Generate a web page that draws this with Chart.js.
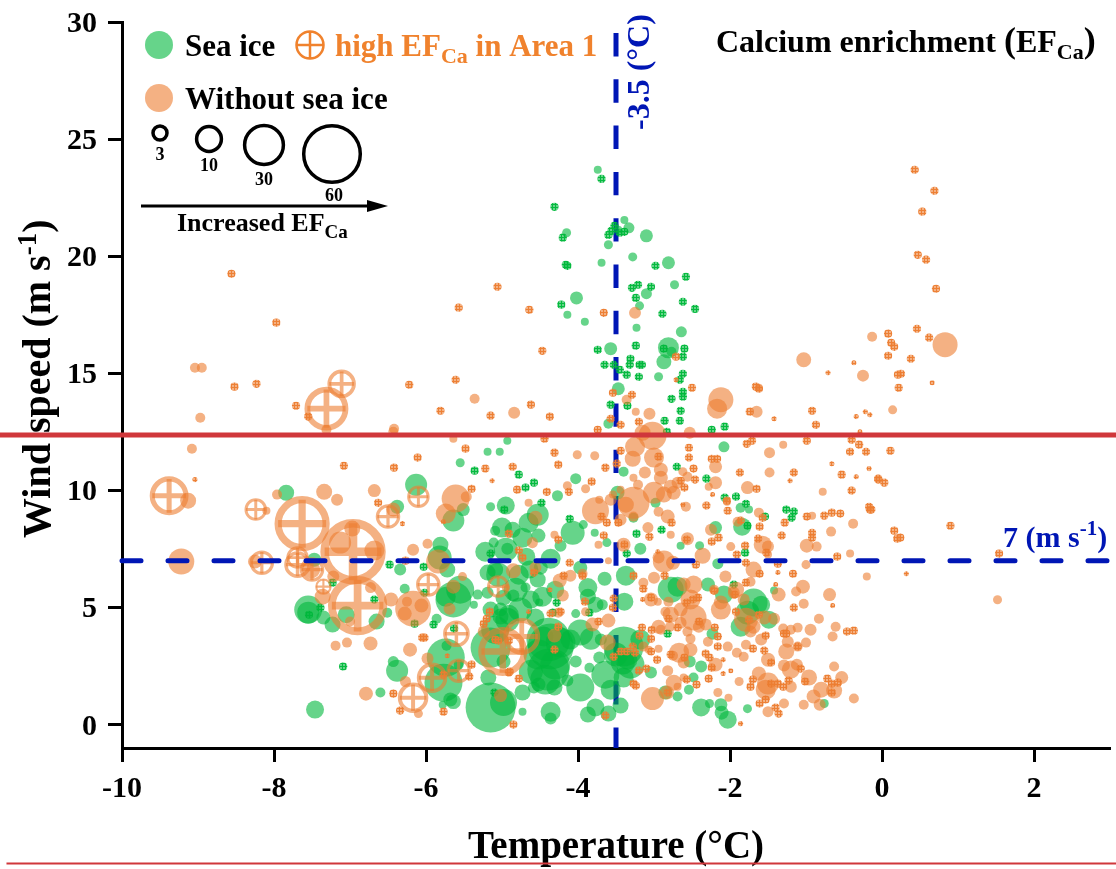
<!DOCTYPE html>
<html>
<head>
<meta charset="utf-8">
<title>Calcium enrichment</title>
<script src="https://cdn.jsdelivr.net/npm/chart.js@4/dist/chart.umd.min.js"></script>
<style>
  html, body { margin: 0; padding: 0; background: #fff; }
  canvas { display: block; }
</style>
</head>
<body>
<canvas id="chart" width="1116" height="869"></canvas>
<script>
// Axis ticks
const tempTicks = [-10, -8, -6, -4, -2, 0, 2];
const windTicks = [0, 5, 10, 15, 20, 25, 30];

// Reference lines
const tempLimit = -3.5;
const windLimit = 7;
const redLineWind = 12.36;
const bottomLineWind = -5.93;

// [temperature, wind speed, EF_Ca]
const seaIce = [
  [-3.74,23.69,1],[-4.15,21,1.27],[-3.39,21.55,1],[-3.33,21.21,1.9],[-3.1,20.87,2.64],[-3.6,20.49,1.27],[-3.47,21.13,1],
  [-3.28,19.97,1.27],[-3.69,19.72,1],[-2.81,19.72,2.64],[-2.73,18.78,1.27],[-3.1,18.4,1.9],[-4.02,18.22,2.64],[-3.19,17.88,1.27],
  [-4.14,17.5,1],[-3.91,17.2,1],[-3.23,16.94,1],[-2.64,16.77,1.9],[-3.57,16.05,2.64],[-2.81,16.09,6.9],[-2.77,15.92,1.56],
  [-2.87,15.49,3.5],[-2.94,14.85,1.27],[-3.47,14.34,2.64],[-3.6,12.85,1.56],[-2.08,11.86,1.9],[-4.93,12.12,1],[-5.19,11.65,1],
  [-5.03,11.65,1],[-4.03,10.5,1.9],[-4.27,9.77,1.9],[-4.95,9.35,5.06],[-5.15,9.3,1.27],[-4.53,8.96,7.56],[-5,8.41,6.25],
  [-5.09,8.28,1.56],[-4.73,7.98,6.25],[-4.52,8.07,3.06],[-4.07,8.19,9],[-3.93,8.54,1.27],[-3.78,8.19,1],[-3.62,7.77,1.27],
  [-4.23,7.64,2.25],[-4.36,7.08,6.25],[-4.93,7.51,2.25],[-4.68,7.17,5.06],[-5.11,7.77,1.56],[-5.22,7.38,6.25],[-5.19,6.49,4],
  [-5.09,6.62,4],[-4.53,6.19,4],[-4.69,5.85,1.56],[-4.49,6.7,3.06],[-4.64,6.62,5.06],[-4.47,5.46,6.25],[-4.51,5.21,1],
  [-4.78,6.4,6.25],[-4.85,5.51,2.25],[-4.98,5.42,4],[-3.87,5.85,5.6],[-3.87,5.46,4],[-3.65,6.23,3.06],[-3.77,5.12,4],
  [-3.68,5.12,1.9],[-3.97,6.7,3.06],[-3.37,6.36,6.25],[-3.39,5.25,5.06],[-4.03,4.74,1.27],[-4.56,4.57,5.06],[-4.91,4.69,6.25],
  [-5.02,4.61,4],[-5.09,4.05,12.25],[-4.93,4.48,9],[-4.36,3.33,33],[-4.23,3.5,14],[-4.45,3.76,6.25],[-3.97,3.93,10.6],
  [-3.83,3.67,7.56],[-4.03,2.69,2.25],[-4.39,2.35,27.6],[-4.14,1.88,2.25],[-4.31,1.58,4],[-4.58,1.58,2.25],[-3.97,1.58,12.25],
  [-4.52,1.71,3.06],[-4.73,1.37,4],[-3.64,2.13,12.25],[-3.72,2.86,2.25],[-3.85,2.43,1.56],[-3.4,3.33,25],[-3.41,2.65,9],
  [-3.35,2.77,6.25],[-3.4,2.01,6.25],[-3.04,2.22,2.25],[-3.44,0.81,4],[-3.6,0.47,4],[-3.77,0.73,5.06],[-3.87,0.43,4],
  [-4.36,0.55,6.25],[-4.36,0.26,2.25],[-4.73,0.55,1],[-4.98,0.94,11.4],[-5.15,0.73,39],[-2.65,7.64,1],[-2.4,7.64,1.27],
  [-2.19,8.41,2.64],[-1.84,8.45,5.06],[-1.75,9.18,1],[-1.86,9.26,1.56],[-2.16,6.87,1.9],[-3.18,7.51,2.25],[-3.4,10.8,1.56],
  [-2.98,9.47,1.56],[-3.27,8.83,1.56],[-3.48,9.9,3.06],[-2.69,1.2,1.56],[-2.85,1.37,3.06],[-2.48,2.01,1.56],[-2.54,1.49,1.56],
  [-2.38,2.48,2.25],[-2.53,2.69,2.25],[-2.23,3.88,2.25],[-2.78,5.76,10.6],[-2.69,5.89,6.25],[-2.29,5.98,3.06],[-2.08,5.55,5.06],
  [-1.69,5.21,12.25],[-1.77,4.78,9],[-1.59,5.12,5.06],[-1.49,4.48,5.06],[-1.86,4.18,6.25],[-1.42,5.72,1],[-2.38,0.73,5.06],
  [-2.27,0.9,1.27],[-2.12,0.85,2.64],[-2.11,0.51,3.06],[-2.03,0.21,5.06],[-1.77,0.68,1.27],[-0.76,0.9,1.27],[-7.84,9.9,4],
  [-6.13,10.24,7.56],[-6.38,9.3,3.06],[-5.55,11.18,1.27],[-5.64,8.71,7.56],[-5.51,9.18,2.64],[-5.82,7.13,9],[-5.72,6.62,4],
  [-7.47,7.04,3.06],[-6.28,5.8,1.56],[-5.64,5.34,20],[-5.74,5.46,6.25],[-5.32,5.55,1.56],[-5.37,5.12,1],[-5.19,5.63,2.25],
  [-7.55,4.91,12.25],[-7.55,4.78,7.56],[-7.23,4.27,4],[-7.35,4.57,3.06],[-6.51,4.78,1.56],[-7.05,4.69,4.5],[-6.65,4.4,4],
  [-5.86,4.52,1.56],[-5.74,2.86,22.6],[-5.73,3.37,1.56],[-5.57,2.56,1.56],[-5.77,1.79,22.6],[-5.68,1.07,3.06],[-5.78,0.85,1],
  [-5.64,0.98,3.5],[-6.38,2.3,7.56],[-6.43,2.69,1.9],[-6.6,1.37,1.56],[-7.46,0.64,5.06],[-5.18,2.01,4],[-4.98,2.69,3.06],
  [-5.15,3.29,25],[-5.02,4.91,3.06],[-4.39,3.63,30],[-4.52,2.99,14],[-4.3,2.56,14],[-4.43,1.92,14],[-4.62,2.26,9],[-4.86,8.32,4],
  [-4.65,8.62,6.25],[-4.95,7.47,9],[-4.62,5.34,5.06],[-4.3,5.76,5.06],[-4.82,5.76,9],[-4.76,4.91,9],[-5.05,6.4,9],[-5.15,4.91,4],
  [-5.55,5.76,12.25],[-5.81,7.68,4],[-4.1,3.63,6.25],[-3.7,3.63,2.25],[-3.57,1.49,6.25],[-3.18,3.63,6.25],[-3.31,2.56,12.25],
  [-3.5,2.99,9],[-6.34,6.62,2.25]
];

const withoutIce = [
  [-9.04,15.24,1.56],[-8.95,15.24,1.56],[-8.97,13.1,1.56],[-9.08,11.78,1.56],[-9.13,9.56,4],[-9.22,6.96,10.6],[-8.25,6.96,3.06],
  [-8.1,9.13,1],[-7.96,9.82,1.56],[-7.34,9.94,4],[-7.17,9.6,2.25],[-6.68,9.99,2.64],[-6.43,9.18,3.06],[-6.17,7.47,2.25],
  [-5.98,7.72,1.56],[-7.13,7.77,7.56],[-6.97,8.37,4],[-6.68,7.43,6.25],[-7.51,6.62,5],[-7.22,6.32,2.25],[-7.36,5.46,4],
  [-6.73,5.85,1.9],[-6.46,5.34,3.06],[-6.17,4.95,20],[-5.61,9.65,12.25],[-5.74,9.01,6.25],[-5.47,9.73,1.9],[-7.19,3.37,1.56],
  [-7.04,3.5,1.56],[-6.73,3.46,3.06],[-6.21,3.2,3.06],[-5.98,2.82,2.25],[-6.79,1.32,3.06],[-6.27,1.84,1.9],[-6.1,0.47,1.27],
  [-5.52,6.32,1.27],[-5.84,6.96,9],[-5.64,5.89,3.06],[-5.69,4.95,2.25],[-6.06,5.08,3.06],[-6.25,5.25,1.56],[-6.28,4.74,3.06],
  [-7,4.4,1.56],[-6.43,12.5,1.56],[-7.31,12.59,1.56],[-5.64,12.21,1],[-5.02,1.24,2.64],[-4.56,8.83,3.06],[-4.6,7.77,1.9],
  [-4.85,6.57,3.5],[-4.95,5.85,1],[-5.24,3.97,2.25],[-4.56,6.7,2.25],[-4.31,3.8,3.06],[-3.61,3.5,4],[-3.81,4.27,3.06],
  [-3.6,4.44,3.06],[-4.24,6.15,3.06],[-4.1,6.36,2.25],[-4.2,5.51,2.25],[-3.9,4.82,1.27],[-3.94,6.44,1.56],[-3.6,7,0.77],
  [-3.77,9.13,11.4],[-3.72,9.6,1],[-3.9,10.07,1.27],[-4.14,10.2,1.27],[-4.65,9.47,1],[-4.31,8.11,1],[-3.73,7.68,1],
  [-4.01,11.52,1.27],[-3.78,11.48,1.27],[-4.26,4.78,1.56],[-5.36,13.91,1.56],[-4.84,13.32,2.25],[-6.42,12.63,1.56],
  [-3.25,17.58,2.25],[-3.24,13.36,1],[-3.06,13.27,2.25],[-3.36,13.87,1.56],[-2.12,13.87,9.8],[-2.17,13.49,6.25],[-1.65,13.36,2.25],
  [-2.53,12.46,2.25],[-3.02,12.33,12.25],[-1.03,15.58,3.5],[-0.25,14.9,2.25],[-0.13,16.56,1.56],[0.83,16.22,9.8],[-1.62,14.38,1],
  [0.14,13.44,1.27],[-3.25,11.86,6.25],[-3.15,12.46,4],[-3,11.4,6.25],[-3.28,11.35,4],[-3.12,10.76,2.25],[-3.27,10.54,1],
  [-3.21,10.24,1.56],[-2.91,10.54,3.06],[-2.62,10.8,1.27],[-2.56,10.58,1.56],[-2.69,10.33,2.25],[-2.78,10.16,3.06],[-3,9.9,7.56],
  [-2.74,9.9,3.06],[-2.87,9.82,4],[-3.27,9.47,16],[-3.37,9.39,4],[-3.44,10.03,1],[-3.54,9.82,1],[-3.44,8.75,2.25],[-3.27,8.88,1.56],
  [-2.94,9.09,1.56],[-2.82,8.88,3.06],[-3.08,8.41,1.9],[-2.78,8.11,1],[-3.4,7.68,3.06],[-2.56,7.94,2.64],[-2.25,8.32,2.25],
  [-2.36,7.21,4],[-2.87,6.96,7.56],[-2.94,7.13,2.25],[-2.75,6.91,3.06],[-2.19,11.01,2.64],[-2.19,10.33,2.64],[-2.28,10.16,1],
  [-1.77,10.12,2.64],[-1.48,11.61,1.9],[-1.48,10.76,1.56],[-1.3,11.95,1],[-0.78,9.94,1],[-1.62,9.05,1.56],[-2.58,9.3,1.56],
  [-2.04,9.52,1],[-1.9,8.66,1.56],[-0.67,8.24,1.56],[-0.38,8.58,1.56],[-0.92,8.92,1],[-1.57,7.68,5.06],[-1.5,7.6,2.25],[-1.5,7.26,1],
  [-1.99,7.6,1.27],[-0.99,7.64,3.06],[-0.86,7.6,1.56],[-0.42,7.3,1],[-1,6.83,1.27],[-0.2,6.32,1],[-1.69,6.62,4],[-1.73,6.1,1.56],
  [1.52,5.33,1.27],[-3.14,6.06,1.56],[-3,6.27,2.25],[-2.61,5.98,3.06],[-2.48,5.98,5.06],[-2.95,5.25,1],[-2.81,5.25,1.56],
  [-2.85,4.82,1.56],[-2.48,4.57,10.6],[-2.65,4.35,2.25],[-2.41,4.18,2.25],[-2.94,4.18,3.06],[-2.79,4.18,1.56],[-2.56,3.97,1.56],
  [-2.52,3.67,1.56],[-2.29,3.54,1.56],[-2.94,3.24,1],[-3.14,3.33,1.56],[-3.07,3.2,1],[-2.67,3.07,6.25],[-2.75,2.94,1.56],
  [-2.03,3.33,1.56],[-1.91,3.07,1.56],[-1.82,2.9,1.56],[-2.19,2.56,3.06],[-2.61,2.65,2.25],[-2.82,2.3,1.9],[-2.74,1.79,4],
  [-2.61,2.01,1],[-2.83,1.37,3.06],[-2.69,1.62,1],[-3.02,1.11,8.3],[-2.16,1.37,1.27],[-2.02,1.15,1],[-1.88,1.84,1.27],
  [-2.06,6.32,2.25],[-2.21,5.76,1.56],[-2.12,5.21,3.06],[-1.95,5.63,2.25],[-1.82,5.34,2.25],[-1.69,4.18,3.06],[-1.79,4.48,9],
  [-1.55,4.57,3.06],[-1.42,4.52,2.25],[-1.73,3.97,2.25],[-1.36,5.55,3.06],[-1.04,5.89,3.06],[-1.13,5.68,1.56],[-1.03,5.16,1.56],
  [-0.69,5.55,2.64],[-0.83,4.52,1.56],[-0.61,4.18,1.56],[-0.65,3.76,1.56],[-1.3,4.1,1.56],[-1.2,4.05,1.56],[-1.11,4.14,1.56],
  [-1.24,3.54,2.25],[-1,3.5,1.56],[-1.11,3.33,1.56],[-1.26,3.12,4],[-1.5,2.77,3.06],[-1.29,2.52,2.25],[-1.12,2.56,2.25],
  [-0.63,2.48,1.56],[-1.62,2.18,3.06],[-1.5,1.75,7.56],[-1.2,1.62,2.25],[-0.96,2.01,4],[-0.53,2.01,2.64],[-0.63,1.45,4],
  [-0.37,1.11,1.56],[-0.9,1.2,3.06],[-0.82,0.85,2.25],[-1.03,0.85,1.56],[-1.29,0.9,1.56],[-1.5,0.55,1.9],[-2.12,4.91,6.25],
  [-1.92,5.76,4],[-2.52,5.34,6.25],[-2.78,4.69,4],[-1.2,2.35,5.06],[-0.8,1.49,4],[-1.53,1.49,6.25],[-1.79,3.41,1.56],[-3.04,5.34,3.06],
  [-2.65,4.91,3.06],[-2.52,3.2,3.06],[-2.32,4.27,2.25],[-1.59,3.63,2.25],[-0.94,4.05,2.25],[-2.91,4.05,1.56],[-2.91,10.88,3.06],[-3.57,9.6,2.25]
];

// Rings with a cross: high EF_Ca in Area 1
const highArea1 = [
  [-9.38,9.77,17.8],[-8.24,9.18,6],[-7.63,8.58,36],[-6.96,7.38,50.5],[-8.16,6.91,7.1],[-7.69,6.83,8.4],[-7.69,7.13,6],[-7.5,6.62,7.1],
  [-6.9,5.08,41.5],[-7.35,5.89,3.2],[-6.5,8.88,7.1],[-6.1,9.73,6],[-5.97,5.98,7.1],[-5.6,3.88,8.4],[-6.17,1.15,11],[-5.92,2,11],
  [-5.57,2.3,7.1],[-5.05,5.89,6],[-4.74,3.76,16],[-4.99,3.12,28.4],[-7.11,14.55,9.6],[-7.31,13.49,22.8]
];

// Hatched marks: [temperature, wind speed]
const hatchedEF = 1.05;
const hatchedSmallEF = 0.4;
const seaIceHatched = [
  [-3.69,23.3],[-4.31,22.11],[-4.2,20.79],[-3.6,20.91],[-3.56,21.08],[-3.52,21.3],[-3.45,21],[-3.39,21.04],[-4.16,19.63],[-4.14,19.59],
  [-2.98,19.59],[-2.58,19.12],[-3.21,18.78],[-3.29,18.65],[-3.04,18.69],[-3.24,18.22],[-4.22,17.93],[-2.62,18.05],[-2.46,17.75],
  [-2.89,17.54],[-3.24,16.18],[-3.74,16],[-2.87,16.05],[-2.6,16.05],[-2.62,15.71],[-3.31,15.62],[-3.65,15.36],[-3.53,15.36],[-3.32,15.36],
  [-3.19,15.36],[-3.16,15.36],[-3.45,15.15],[-3.36,14.94],[-3.2,14.85],[-2.62,14.98],[-2.66,14.72],[-2.62,14.21],[-2.62,14],[-2.77,13.91],
  [-3.57,13.66],[-3.35,13.61],[-2.65,13.4],[-2.86,12.97],[-2.66,12.97],[-2.24,12.59],[-2.07,12.72],[-2.83,12.5],[-4.78,10.67],[-4.69,10.12],
  [-4.58,10.33],[-4.48,9.47],[-4.97,9.18],[-4.11,8.79],[-5.15,7.3],[-3.23,8.15],[-2.9,8.32],[-2.7,11.01],[-2.31,10.5],[-2.07,9.69],
  [-1.92,9.73],[-1.79,9.43],[-1.54,8.88],[-1.77,8.49],[-1.26,9.18],[-1.16,9.09],[-1.19,8.83],[-1.8,7.34],[-3.36,7.3],[-4.28,5.21],
  [-3.85,4.78],[-2.82,3.88],[-1.95,5.98],[-5.1,1.37],[-6.48,6.83],[-6.03,6.74],[-7.23,6.06],[-6.68,5.34],[-7.39,4.99],[-7.54,4.69],
  [-6.15,4.31],[-5.9,4.27],[-5.63,4.1],[-7.09,2.48],[-6.02,5.63],[-5.36,10.84],[-4.33,4.78]
];
const withoutIceHatched = [
  [0.43,23.69],[0.69,22.79],[0.53,21.9],[0.47,20.06],[0.58,19.85],[0.71,18.61],[0.46,16.9],[0.62,16.52],[0.08,16.69],[0.12,16.3],
  [0.16,16.13],[0.08,15.75],[0.38,15.62],[0.25,14.98],[0.21,14.94],[0.22,14.38],[-1.66,14.43],[-1.74,13.36],[-0.92,13.4],[-0.87,12.8],
  [-8.56,19.25],[-7.97,17.16],[-8.52,14.43],[-8.23,14.55],[-7.71,13.61],[-7.55,13.15],[-6.22,14.51],[-5.61,14.72],[-5.81,13.4],[-5.15,13.19],
  [-4.62,13.66],[-4.37,13.15],[-5.06,18.69],[-5.57,17.8],[-4.64,17.71],[-4.47,15.96],[-3.66,17.58],[-3.54,14.17],[-3.57,13.06],[-3.44,12.8],
  [-3.74,12.59],[-3.29,14.08],[-3.2,12.93],[-2.71,15.71],[-2.5,14.38],[-1.62,14.34],[-4.44,12.21],[-4.31,11.61],[-5.22,10.93],[-4.86,11.01],
  [-4.26,11.1],[-4.8,10.03],[-4.41,9.94],[-4.12,9.94],[-3.82,10.37],[-3.64,10.97],[-3.49,11.14],[-3.44,11.69],[-2.94,11.44],[-2.54,11.82],
  [-2.54,11.4],[-2.24,11.35],[-2.17,11.35],[-2.48,10.93],[-2.46,10.46],[-2.65,10.41],[-2.6,10.12],[-1.87,10.76],[-1.78,11.99],[-1.71,12.12],
  [-0.99,12.12],[-0.4,12.16],[-0.3,11.95],[-0.42,11.65],[-0.21,11.65],[-0.53,10.67],[-0.05,10.5],[-0.4,9.99],[-1.16,10.76],[-1.65,10.07],
  [-2.04,9.56],[-2.31,9.35],[-2.03,9.13],[-1.57,8.83],[-1.86,8.71],[-1.61,8.45],[-1.28,8.62],[-0.99,8.88],[-0.76,8.92],[-0.66,9.05],[-0.55,9.01],
  [-0.17,9.3],[-0.16,9.18],[-0.92,8.19],[-0.92,7.98],[-1.32,8.07],[-1.63,7.94],[-2.15,7.98],[-2.24,7.81],[-2.57,7.9],[-2.77,8.62],[-3.06,8.02],
  [-3.47,8.62],[-3.62,8.62],[-3.69,8.88],[-3.66,8.07],[-3.39,7.68],[-2.45,6.83],[-1.91,7.26],[-1.8,7.64],[-1.79,6.91],[-1.52,7.34],[-1.37,6.87],
  [-0.59,7.17],[-1.17,6.44],[-1.79,6.06],[-1.61,6.44],[-2.86,6.36],[-3.27,6.36],[-2.21,5.72],[-1.94,5.55],[-2.42,5.42],[-2.49,5.34],[-2.57,5.21],
  [-1.16,4.99],[-3.14,5.8],[-3.04,5.42],[-3.53,5.38],[-3.54,4.99],[-1.92,4.82],[-2.81,4.52],[-2.41,4.4],[-1.62,4.69],[-1.75,4.48],[-0.46,3.97],
  [-0.37,4.01],[-1.26,3.88],[-1.29,3.88],[-1.11,3.33],[-1.53,3.8],[-2.16,3.33],[-2.16,3.76],[-2.2,4.14],[-2.69,4.14],[-3.03,4.05],[-3.16,4.14],
  [-3.04,3.67],[-3.19,3.8],[-1.7,3.24],[-1.55,3.16],[-2.78,2.99],[-2.32,3.03],[-2.27,2.86],[-2.6,2.86],[-3.44,3.12],[-3.36,3.12],[-3.25,3.07],
  [-3.28,3.33],[-3.53,2.9],[-4.31,3.2],[-4.26,4.18],[-3.73,4.4],[-3.94,6.36],[-4.19,6.36],[-4.58,6.49],[-4.73,7.13],[-4.78,7.43],[-4.91,8.15],
  [-4.26,7.9],[-4.11,6.91],[-3.91,5.25],[-4.36,4.74],[-4.23,4.82],[-5.16,4.82],[-5.2,4.52],[-5.24,4.31],[-5.09,3.63],[-4.91,2.22],[-4.78,1.96],
  [-4.85,0],[-3.1,2.39],[-3.2,2.3],[-2.96,2.77],[-3.04,3.12],[-2.24,2.43],[-2.28,1.96],[-2.57,1.92],[-2.44,1.71],[-3.27,1.75],[-3.24,1.66],
  [-2.82,1.37],[-1.46,2.65],[-1.07,2.39],[-1.7,1.92],[-1.73,1.62],[-1.23,1.88],[-1.46,1.75],[-1.37,1.75],[-1.3,1.62],[-1.01,1.84],[-0.72,1.96],
  [-0.66,1.75],[-0.58,1.79],[-0.66,1.37],[-1.53,1.07],[-1.61,0.9],[-1.4,0.73],[-1.36,0.47],[-3.64,0.38],[0.11,11.69],[-0.05,10.46],[0.03,10.33],
  [-0.14,9.18],[0.16,8.28],[0.2,7.94],[0.24,7.98],[0.9,8.49],[1.54,7.3],[-5.48,11.78],[-6.11,11.4],[-6.42,10.97],[-7.08,11.05],[-5.4,10.07],
  [-6.63,9.47],[-6.27,7],[-6.05,3.71],[-6.02,3.71],[-5.4,2.56],[-5.77,2.13],[-5.43,2.05],[-6.43,1.32],[-6.34,0.6],[-5.77,0.55],[-4.9,2.26],
  [-5.05,3.58],[-4.91,3.58]
];
const withoutIceHatchedSmall = [
  [-0.37,15.45],[-0.71,15.02],[-0.22,13.36],[-0.34,13.15],[-0.16,13.23],[-0.29,12.5],[-1.42,13.06],[0.66,14.6],[-2.71,14.72],[-5.13,10.41],
  [-0.66,11.14],[-0.17,10.93],[-0.34,10.58],[-1.21,10.41],[-2.23,9.82],[-2.62,9.39],[-2.95,7.38],[-1.37,6.49],[-1.4,5.98],[-0.65,5.08],
  [-3.15,5.34],[-4.37,5.76],[-4.65,4.82],[-2.09,2.77],[-1.99,2.3],[-2.09,2.18],[-1.86,0.04],[0.32,6.44],[-9.04,10.46],[-6.31,8.58],
  [-5.77,8.66],[-5.72,2.94]
];

const serif = '"Liberation Serif", "Times New Roman", serif';
const orange = '237,125,49';
const green = '0,184,60';
const blue = '#0016b5';
const red = '#d0373b';

// EF_Ca to bubble radius, same scale as the size legend
const efRadius = ef => 4 * Math.sqrt(ef);
const toBubbles = rows => rows.map(r => ({ x: r[0], y: r[1], r: efRadius(r[2]) }));
const toHatched = (rows, ef) => rows.map(r => ({ x: r[0], y: r[1], r: efRadius(ef) }));

// Cross hatch fill for the low EF marks
function hatch(rgb) {
  const tile = document.createElement('canvas');
  tile.width = 3;
  tile.height = 3;
  const t = tile.getContext('2d');
  t.fillStyle = 'rgba(' + rgb + ',0.6)';
  t.fillRect(0, 0, 3, 3);
  t.fillStyle = 'rgba(' + rgb + ',0.95)';
  t.fillRect(0, 0, 3, 1);
  t.fillRect(0, 1, 1, 2);
  return t.createPattern(tile, 'repeat');
}

function lineSet(from, to, color, width, dash, cap, order) {
  return {
    type: 'line',
    data: [from, to],
    borderColor: color,
    borderWidth: width,
    borderDash: dash,
    borderCapStyle: cap,
    pointRadius: 0,
    clip: false,
    order: order
  };
}

// Writes text runs left to right, a run can be lowered or raised
function runs(ctx, x, y, parts, color) {
  ctx.fillStyle = color;
  ctx.textAlign = 'left';
  ctx.textBaseline = 'alphabetic';
  parts.forEach(p => {
    ctx.font = 'bold ' + p.size + 'px ' + serif;
    ctx.fillText(p.text, x, y + (p.dy || 0));
    x += ctx.measureText(p.text).width;
  });
}

const overlay = {
  id: 'overlay',
  afterDraw(chart) {
    const ctx = chart.ctx;
    ctx.save();

    // wind tick labels, digits centred on the tick
    ctx.fillStyle = '#000';
    ctx.font = 'bold 30px ' + serif;
    ctx.textAlign = 'right';
    ctx.textBaseline = 'alphabetic';
    windTicks.forEach(v => {
      ctx.fillText(String(v), 97, chart.scales.y.getPixelForValue(v) + 10);
    });

    // colour legend
    ctx.beginPath();
    ctx.arc(159, 45, 14, 0, Math.PI * 2);
    ctx.fillStyle = 'rgba(' + green + ',0.6)';
    ctx.fill();
    ctx.beginPath();
    ctx.arc(159, 98, 14, 0, Math.PI * 2);
    ctx.fillStyle = 'rgba(' + orange + ',0.6)';
    ctx.fill();
    ctx.strokeStyle = 'rgb(240,130,45)';
    ctx.lineWidth = 2.5;
    ctx.beginPath();
    ctx.arc(310, 45, 13.5, 0, Math.PI * 2);
    ctx.moveTo(297, 45);
    ctx.lineTo(323, 45);
    ctx.moveTo(310, 32);
    ctx.lineTo(310, 58);
    ctx.stroke();
    runs(ctx, 185, 56, [{ text: 'Sea ice', size: 31 }], '#000');
    runs(ctx, 185, 109, [{ text: 'Without sea ice', size: 31 }], '#000');
    runs(ctx, 335, 56, [
      { text: 'high EF', size: 31 },
      { text: 'Ca', size: 22, dy: 7 },
      { text: ' in Area 1', size: 31 }
    ], 'rgb(240,130,45)');

    // size legend
    ctx.strokeStyle = '#000';
    ctx.lineWidth = 3.5;
    [[160, 133, 7], [209, 139, 12.4], [264, 145, 19.4], [332, 154, 28.3]].forEach(c => {
      ctx.beginPath();
      ctx.arc(c[0], c[1], c[2], 0, Math.PI * 2);
      ctx.stroke();
    });
    ctx.fillStyle = '#000';
    ctx.font = 'bold 18px ' + serif;
    ctx.textAlign = 'center';
    ctx.fillText('3', 160, 160);
    ctx.fillText('10', 209, 171);
    ctx.fillText('30', 264, 185);
    ctx.fillText('60', 334, 201);

    ctx.lineWidth = 3;
    ctx.beginPath();
    ctx.moveTo(141, 206);
    ctx.lineTo(370, 206);
    ctx.stroke();
    ctx.beginPath();
    ctx.moveTo(367, 200);
    ctx.lineTo(388, 206);
    ctx.lineTo(367, 212);
    ctx.closePath();
    ctx.fill();
    runs(ctx, 177, 231, [
      { text: 'Increased EF', size: 26 },
      { text: 'Ca', size: 19, dy: 7 }
    ], '#000');

    // title and line labels
    runs(ctx, 716, 52, [
      { text: 'Calcium enrichment ', size: 32 },
      { text: '(', size: 36 },
      { text: 'EF', size: 32 },
      { text: 'Ca', size: 22, dy: 7 },
      { text: ')', size: 36 }
    ], '#000');
    runs(ctx, 1003, 547, [
      { text: '7 (m s', size: 30 },
      { text: '-1', size: 21, dy: -12 },
      { text: ')', size: 30 }
    ], blue);

    ctx.save();
    ctx.translate(649, 130);
    ctx.rotate(-Math.PI / 2);
    runs(ctx, 0, 0, [{ text: '-3.5 (°C)', size: 32 }], blue);
    ctx.restore();

    ctx.save();
    ctx.translate(50, 538);
    ctx.rotate(-Math.PI / 2);
    runs(ctx, 0, 0, [
      { text: 'Wind speed (m s', size: 40 },
      { text: '-1', size: 27, dy: -14 },
      { text: ')', size: 40 }
    ], '#000');
    ctx.restore();

    ctx.restore();
  }
};

const axisFont = { family: serif, size: 30, weight: 'bold' };

new Chart(document.getElementById('chart').getContext('2d'), {
  type: 'bubble',
  plugins: [overlay],
  data: {
    datasets: [
      lineSet({ x: tempLimit, y: 29.53 }, { x: tempLimit, y: -1 }, blue, 5, [23.4, 22.9], 'butt', 10),
      { label: 'Sea ice', data: toBubbles(seaIce), backgroundColor: 'rgba(' + green + ',0.6)', borderWidth: 0, order: 9 },
      { label: 'Sea ice low', data: toHatched(seaIceHatched, hatchedEF), backgroundColor: hatch(green), borderWidth: 0, order: 8 },
      { label: 'Without sea ice', data: toBubbles(withoutIce), backgroundColor: 'rgba(' + orange + ',0.6)', borderWidth: 0, order: 7 },
      { label: 'Without sea ice low', data: toHatched(withoutIceHatched, hatchedEF), backgroundColor: hatch(orange), borderWidth: 0, order: 6 },
      { label: 'Without sea ice lowest', data: toHatched(withoutIceHatchedSmall, hatchedSmallEF), backgroundColor: hatch(orange), borderWidth: 0, order: 6 },
      {
        label: 'high EF ring',
        data: toBubbles(highArea1),
        backgroundColor: 'rgba(0,0,0,0)',
        borderColor: 'rgba(' + orange + ',0.6)',
        borderWidth: c => c.raw.r * 0.3,
        order: 5
      },
      {
        label: 'high EF cross',
        data: toBubbles(highArea1),
        pointStyle: 'cross',
        borderColor: 'rgba(' + orange + ',0.6)',
        borderWidth: c => c.raw.r * 0.3,
        order: 4
      },
      lineSet({ x: -10, y: windLimit }, { x: 3.1, y: windLimit }, blue, 5, [19, 27], 'round', 3),
      lineSet({ x: -11.61, y: redLineWind }, { x: 3.1, y: redLineWind }, red, 5, [], 'butt', 2),
      lineSet({ x: -11.52, y: bottomLineWind }, { x: 3.1, y: bottomLineWind }, red, 2, [], 'butt', 1)
    ]
  },
  options: {
    responsive: false,
    animation: false,
    events: [],
    layout: { autoPadding: false, padding: { top: 22, right: 6, left: 0, bottom: 0 } },
    plugins: { legend: { display: false }, tooltip: { enabled: false } },
    scales: {
      x: {
        type: 'linear',
        min: -10,
        max: 3,
        border: { color: '#000', width: 3 },
        grid: { drawOnChartArea: false, tickLength: 14, tickWidth: 3, tickColor: '#000' },
        ticks: { color: '#000', font: axisFont, padding: 9, autoSkip: false, maxRotation: 0 },
        title: {
          display: true,
          text: 'Temperature (°C)',
          color: '#000',
          font: { family: serif, size: 39, weight: 'bold', lineHeight: 1 },
          padding: { top: 0, bottom: 2 }
        },
        afterBuildTicks: s => { s.ticks = tempTicks.map(v => ({ value: v })); },
        afterFit: s => { s.height = 121; s.paddingLeft = 0; s.paddingRight = 0; }
      },
      y: {
        type: 'linear',
        min: -1,
        max: 30,
        border: { color: '#000', width: 3 },
        grid: { drawOnChartArea: false, tickLength: 14, tickWidth: 3, tickColor: '#000' },
        ticks: { display: false },
        afterBuildTicks: s => { s.ticks = windTicks.map(v => ({ value: v })); },
        afterFit: s => { s.width = 122; s.paddingTop = 0; s.paddingBottom = 0; }
      }
    }
  }
});
</script>
</body>
</html>
